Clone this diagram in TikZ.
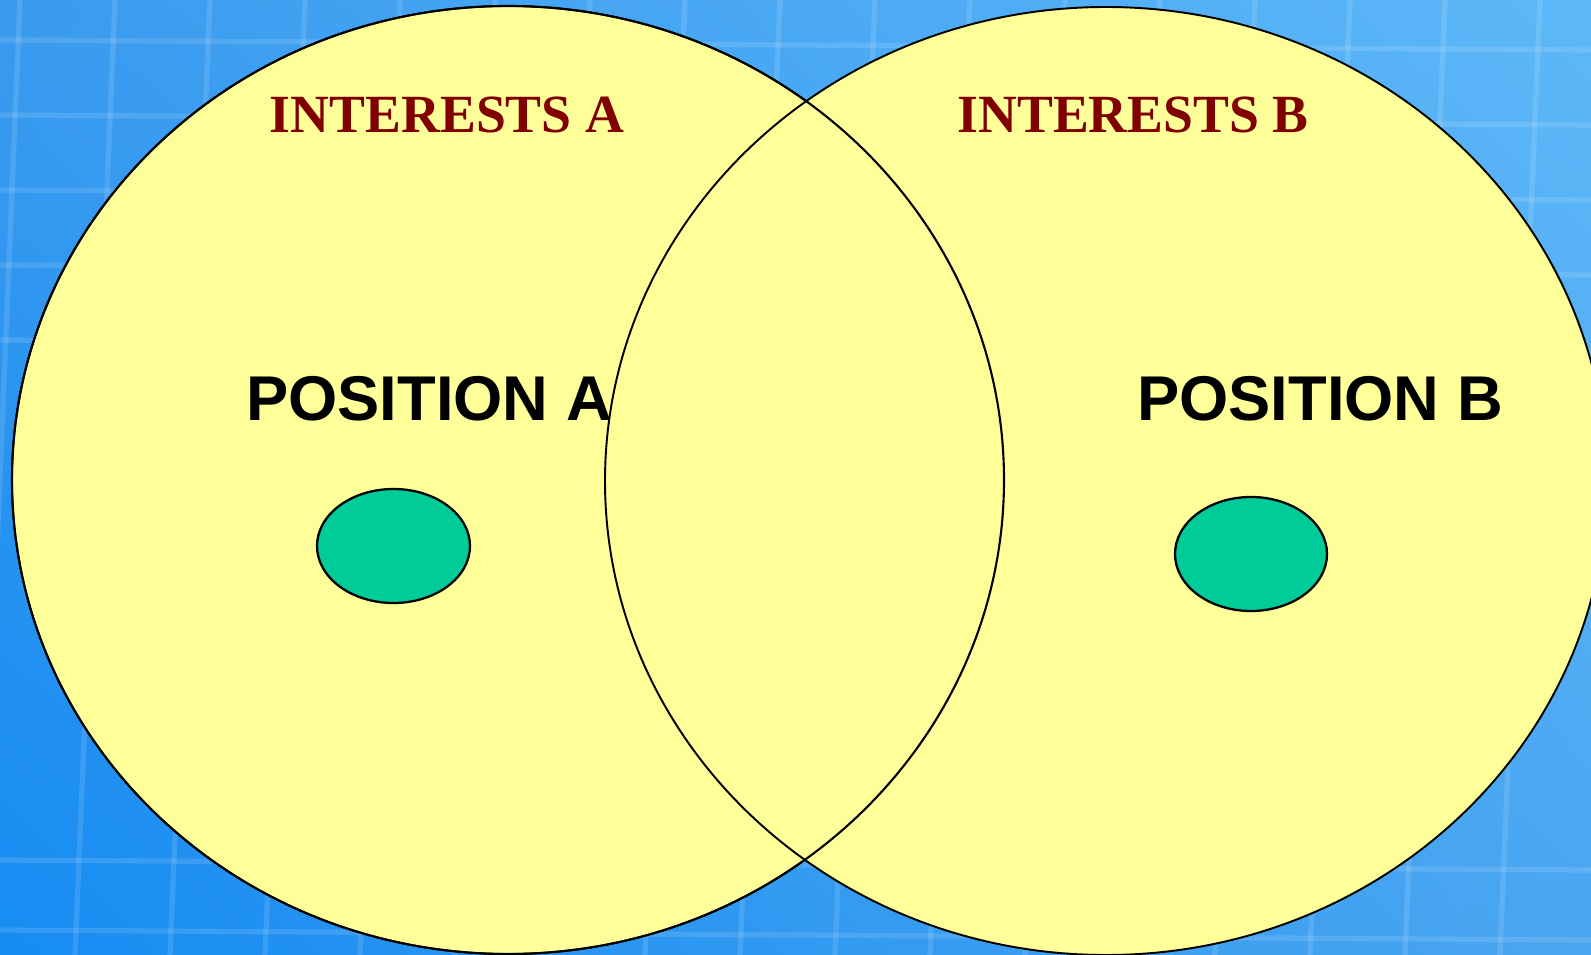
\documentclass[tikz,border=0pt]{standalone}
\usepackage{fontspec}
\setmainfont{Liberation Serif}
\setsansfont{Liberation Sans}
\usetikzlibrary{shadings}
\definecolor{skyA}{HTML}{3A9BEF}
\definecolor{skyB}{HTML}{5DB8F8}
\definecolor{skyC}{HTML}{168CF2}
\definecolor{skyD}{HTML}{4AA6F0}
\definecolor{pale}{HTML}{FFFF99}
\definecolor{seagreen}{HTML}{00CC99}
\definecolor{wine}{HTML}{800000}

\begin{document}
\begin{tikzpicture}[x=0.02cm,y=-0.02cm,
  bubble/.style={fill=pale,draw=black,line width=1.1pt},
  blob/.style={fill=seagreen,draw=black,line width=1.3pt},
  interest/.style={text=wine,font=\bfseries\fontsize{30.6}{36}\selectfont,inner sep=0pt},
  position/.style={font=\sffamily\bfseries\fontsize{36}{42}\selectfont,inner sep=0pt}]
  \useasboundingbox (0,0) rectangle (1591,955);
  \shade[upper left=skyA,upper right=skyB,lower left=skyC,lower right=skyD] (0,0) rectangle (1591,955);
  \foreach \x in {20,115,210,305,400,495,590,685,780,875,970,1065,1160,1255,1350,1445,1540}
    \draw[white,opacity=0.12,line width=3pt] (\x,0)--(\x-40,955);
  \foreach \y in {40,115,190,265,340,860,930}
    \draw[white,opacity=0.12,line width=3pt] (0,\y)--(1591,\y+10);
  \coordinate (cA) at (508,480); \coordinate (cB) at (1106,481);
  \coordinate (gA) at (393.5,546); \coordinate (gB) at (1251,554);
  % left circle and its labels
  \filldraw[bubble] (cA) ellipse [x radius=496,y radius=474];
  \node[interest] (intA) at (447,115) {INTERESTS A};
  \node[position,anchor=west] (posA) at (246,399) {POSITION A};
  % right circle drawn over it, then the left rim again
  \filldraw[bubble] (cB) ellipse [x radius=501,y radius=474];
  \draw[line width=1.2pt] (cA) ellipse [x radius=496,y radius=474];
  \node[interest] (intB) at (1133,115) {INTERESTS B};
  \node[position] (posB) at (1320,399) {POSITION B};
  \filldraw[blob] (gA) ellipse [x radius=76.5,y radius=57];
  \filldraw[blob] (gB) ellipse [x radius=76,y radius=57];
\end{tikzpicture}
\end{document}
